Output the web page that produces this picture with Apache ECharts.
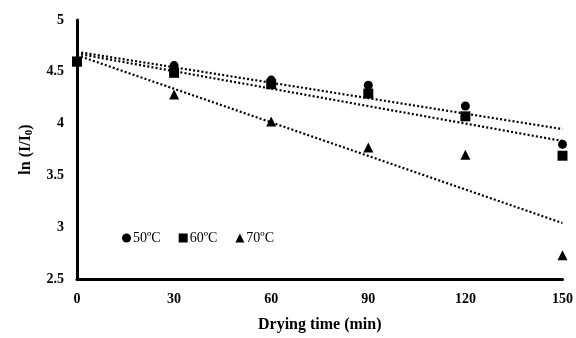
<!DOCTYPE html>
<html>
<head>
<meta charset="utf-8">
<script src="https://cdn.jsdelivr.net/npm/echarts@6/dist/echarts.min.js"></script>
<style>html,body{margin:0;padding:0;background:#fff}#c{width:576px;height:338px}</style>
</head>
<body>
<div id="c"></div>
<script>
var times = [0, 30, 60, 90, 120, 150];
var seriesNames = ['50ºC', '60ºC', '70ºC'];
var values50 = [4.60, 4.56, 4.42, 4.37, 4.17, 3.80];
var values60 = [4.60, 4.49, 4.38, 4.29, 4.07, 3.69];
var values70 = [4.60, 4.28, 4.02, 3.77, 3.70, 2.73];
var xTicks = [0, 30, 60, 90, 120, 150];
var yTicks = [2.5, 3, 3.5, 4, 4.5, 5];

function pairs(vals) { return times.map(function (t, i) { return [t, vals[i]]; }); }
function trend(vals) {
  var n = times.length, mx = 0, my = 0;
  for (var i = 0; i < n; i++) { mx += times[i]; my += vals[i]; }
  mx /= n; my /= n;
  var sxy = 0, sxx = 0;
  for (var j = 0; j < n; j++) { sxy += (times[j] - mx) * (vals[j] - my); sxx += (times[j] - mx) * (times[j] - mx); }
  var b = sxy / sxx, a = my - b * mx;
  var x0 = times[0], x1 = times[n - 1];
  return [[x0, a + b * x0], [x1, a + b * x1]];
}
var font = '"Liberation Serif", "Times New Roman", serif';
var chart = echarts.init(document.getElementById('c'));
var dotted = { color: '#000', width: 2.2, type: [2, 2.2] };
var allVals = [values50, values60, values70];
var symbols = ['circle', 'rect', 'triangle'];
var sizes = [9, 10, 10];
var zs = [3, 5, 4];
var series = [];
allVals.forEach(function (v, k) {
  series.push({
    name: seriesNames[k], type: 'scatter', data: pairs(v), symbol: symbols[k], symbolSize: sizes[k],
    itemStyle: { color: '#000', opacity: 1 }, z: zs[k]
  });
});
allVals.forEach(function (v, k) {
  series.push({
    name: 'trend' + k, type: 'line', data: trend(v), showSymbol: false, symbol: 'none',
    lineStyle: dotted, z: 2, silent: true
  });
});
chart.setOption({
  animation: false,
  backgroundColor: '#fff',
  textStyle: { fontFamily: font },
  grid: { left: 77, right: 13, top: 20, bottom: 56 },
  legend: {
    data: seriesNames.map(function (n, k) { return { name: n, icon: symbols[k] }; }),
    left: 117, top: 226, itemWidth: 9, itemHeight: 9, itemGap: 18,
    textStyle: { fontFamily: font, fontSize: 14, color: '#000', padding: [0, 0, 0, -3] }
  },
  xAxis: {
    type: 'value', min: 0, max: 150, interval: 30,
    name: 'Drying time (min)', nameLocation: 'middle', nameGap: 38,
    nameTextStyle: { fontFamily: font, fontSize: 16, fontWeight: 'bold', color: '#000' },
    axisLine: { lineStyle: { color: '#000', width: 3 } },
    axisTick: { show: false }, splitLine: { show: false },
    axisLabel: { fontFamily: font, fontSize: 14, fontWeight: 'bold', color: '#000', margin: 13 }
  },
  yAxis: {
    type: 'value', min: 2.5, max: 5, interval: 0.5,
    name: '{a|ln (I/I}{s|0}{a|)}', nameLocation: 'middle', nameGap: 42, nameRotate: 90,
    nameTextStyle: {
      rich: {
        a: { fontFamily: font, fontSize: 16, fontWeight: 'bold', color: '#000' },
        s: { fontFamily: font, fontSize: 11, fontWeight: 'bold', color: '#000', verticalAlign: 'bottom', padding: [7, 0, 0, 0] }
      }
    },
    axisLine: { show: true, lineStyle: { color: '#000', width: 3 } },
    axisTick: { show: false }, splitLine: { show: false },
    axisLabel: { fontFamily: font, fontSize: 14, fontWeight: 'bold', color: '#000', margin: 13,
      formatter: function (v) { return String(v); } }
  },
  series: series
});
</script>
</body>
</html>
